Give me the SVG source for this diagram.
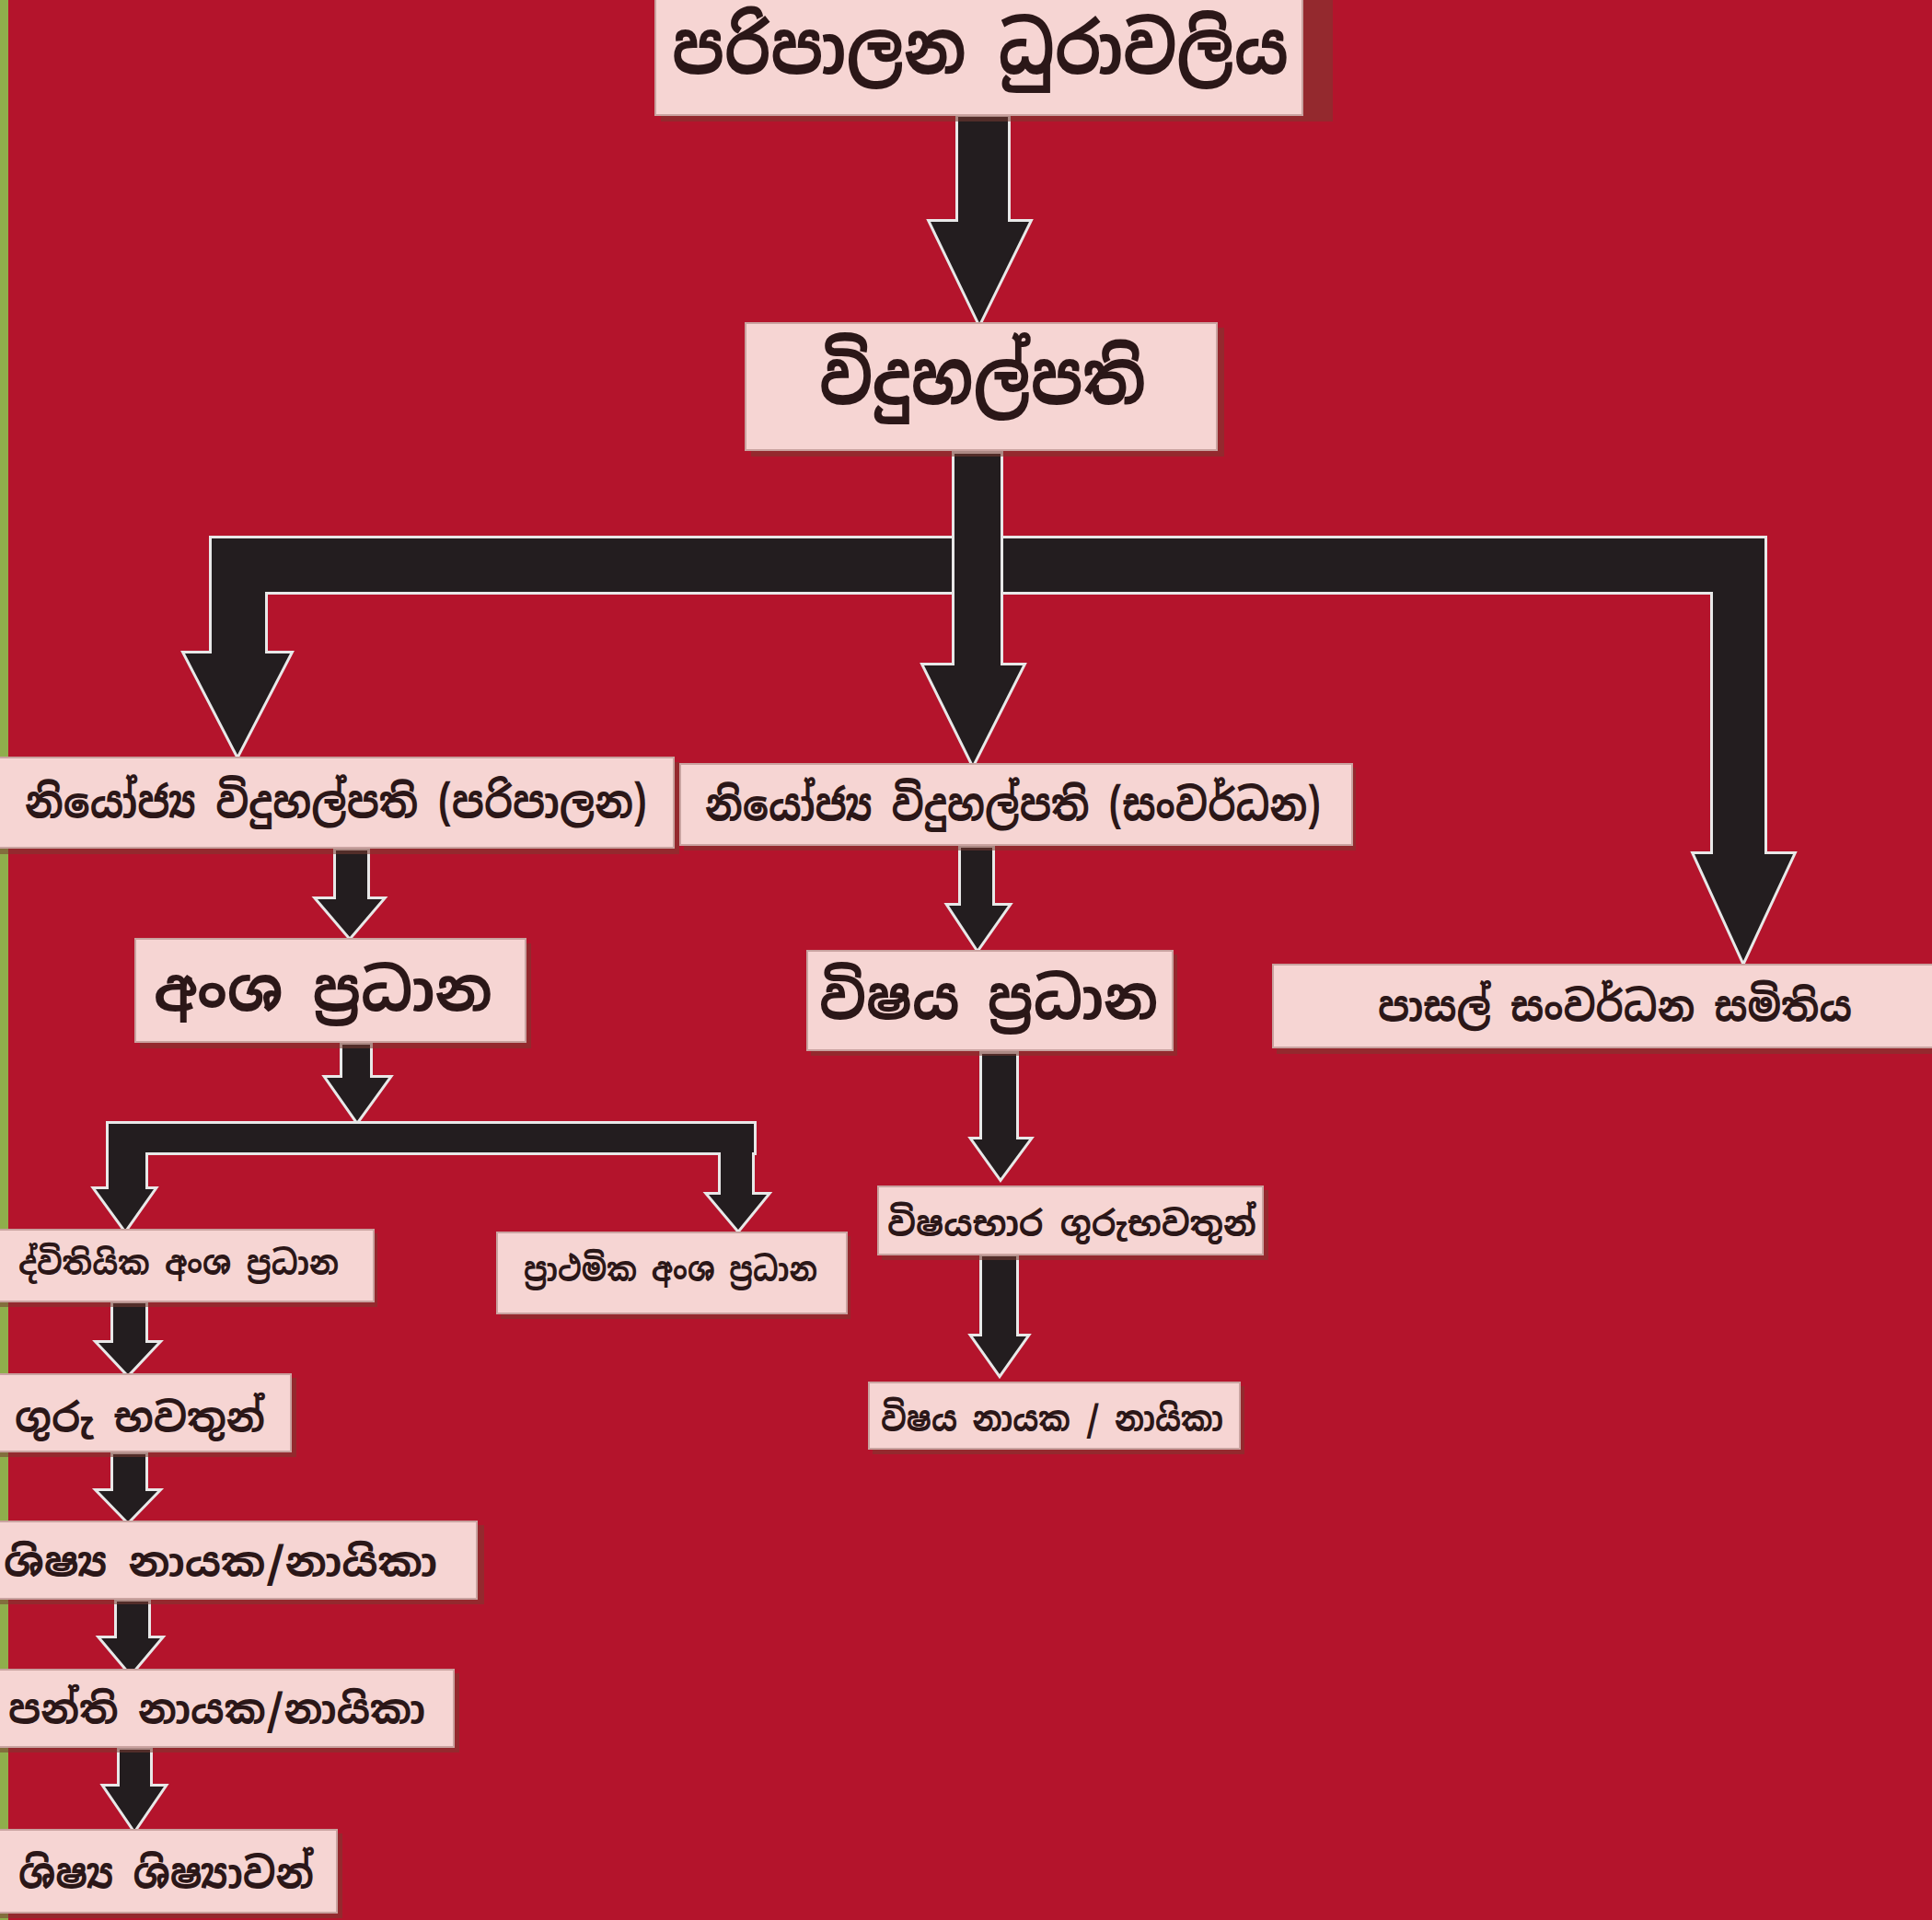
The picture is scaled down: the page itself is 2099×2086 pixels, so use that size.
<svg xmlns="http://www.w3.org/2000/svg" xmlns:xlink="http://www.w3.org/1999/xlink" width="2099" height="2086" viewBox="0 0 2099 2086">
<style>
.box{fill:#f6d5d3;stroke:#c9a3a0;stroke-width:2}
.shadow{fill:#7a3a32;opacity:0.55}
.t{font-family:"Noto Sans Sinhala","Iskoola Pota","Noto Sans","DejaVu Sans",sans-serif;fill:#2b1718;dominant-baseline:central;font-weight:bold}
.outline{stroke:#e8e8e8;stroke-width:6;stroke-linejoin:miter;fill:#e8e8e8}
.fill{fill:#231d1f}
</style>
<defs>
<g id="conn">
<polygon points="1041,127 1095,127 1095,241 1118,241 1064,351 1011,241 1041,241"/>
<rect x="230" y="585" width="1687" height="58"/>
<polygon points="230,585 288,585 288,710 315,710 258,820 201,710 230,710"/>
<polygon points="1861,585 1917,585 1917,928 1948,928 1894,1044 1841,928 1861,928"/>
<polygon points="365,924 399,924 399,977 415,977 380,1018 345,977 365,977"/>
<polygon points="1044,921 1078,921 1078,984 1095,984 1062,1031 1031,984 1044,984"/>
<polygon points="372,1135 402,1135 402,1171 422,1171 388,1218 355,1171 372,1171"/>
<rect x="118" y="1221" width="701" height="31"/>
<polygon points="118,1221 158,1221 158,1292 167,1292 136,1336 104,1292 118,1292"/>
<polygon points="783,1221 817,1221 817,1298 833,1298 802,1336 770,1298 783,1298"/>
<polygon points="123,1416 158,1416 158,1459 171,1459 139,1493 107,1459 123,1459"/>
<polygon points="123,1580 158,1580 158,1620 171,1620 139,1653 107,1620 123,1620"/>
<polygon points="127,1740 161,1740 161,1780 174,1780 142,1818 110,1780 127,1780"/>
<polygon points="130,1901 163,1901 163,1941 178,1941 146,1988 114,1941 130,1941"/>
<polygon points="1067,1145 1104,1145 1104,1238 1118,1238 1087,1280 1057,1238 1067,1238"/>
<polygon points="1067,1365 1104,1365 1104,1452 1115,1452 1086,1493 1057,1452 1067,1452"/>
</g>
<polygon id="mid" points="1037,493 1087,493 1087,723 1111,723 1057,830 1004,723 1037,723"/>
</defs>
<rect x="0" y="0" width="2099" height="2086" fill="#b4142c"/>
<rect x="0" y="0" width="9" height="2086" fill="#8fae4c"/>
<g id="connectors">
<use xlink:href="#conn" class="outline"/>
<use xlink:href="#conn" class="fill"/>
<use xlink:href="#mid" class="outline"/>
<use xlink:href="#mid" class="fill"/>
</g>
<g id="n1"><rect class="shadow" x="718" y="0" width="730" height="132"/><rect class="box" x="712" y="-5" width="703" height="130"/><text class="t" x="730" y="52" font-size="78" textLength="670" lengthAdjust="spacingAndGlyphs">පරිපාලන ධුරාවලිය</text></g>
<g id="n2"><rect class="shadow" x="816" y="356" width="514" height="140"/><rect class="box" x="810" y="351" width="512" height="138"/><text class="t" x="890" y="410" font-size="80" textLength="355" lengthAdjust="spacingAndGlyphs">විදුහල්පති</text></g>
<g id="n3"><rect class="shadow" x="0" y="828" width="738" height="100"/><rect class="box" x="-4" y="823" width="736" height="98"/><text class="t" x="27" y="870" font-size="48" textLength="676" lengthAdjust="spacingAndGlyphs">නියෝජ්‍ය විදුහල්පති (පරිපාලන)</text></g>
<g id="n4"><rect class="shadow" x="743" y="834" width="730" height="90"/><rect class="box" x="739" y="830" width="730" height="88"/><text class="t" x="766" y="873" font-size="48" textLength="669" lengthAdjust="spacingAndGlyphs">නියෝජ්‍ය විදුහල්පති (සංවර්ධන)</text></g>
<g id="n5"><rect class="shadow" x="152" y="1025" width="425" height="114"/><rect class="box" x="147" y="1020" width="424" height="112"/><text class="t" x="167" y="1075" font-size="64" textLength="368" lengthAdjust="spacingAndGlyphs">අංශ ප්‍රධාන</text></g>
<g id="n6"><rect class="shadow" x="881" y="1037" width="398" height="110"/><rect class="box" x="877" y="1033" width="397" height="108"/><text class="t" x="890" y="1084" font-size="64" textLength="368" lengthAdjust="spacingAndGlyphs">විෂය ප්‍රධාන</text></g>
<g id="n7"><rect class="shadow" x="1387" y="1053" width="712" height="92"/><rect class="box" x="1383" y="1048" width="720" height="90"/><text class="t" x="1497" y="1093" font-size="46" textLength="515" lengthAdjust="spacingAndGlyphs">පාසල් සංවර්ධන සමිතිය</text></g>
<g id="n8"><rect class="shadow" x="0" y="1340" width="410" height="80"/><rect class="box" x="-4" y="1336" width="410" height="78"/><text class="t" x="20" y="1372" font-size="36" textLength="348" lengthAdjust="spacingAndGlyphs">ද්විතියික අංශ ප්‍රධාන</text></g>
<g id="n9"><rect class="shadow" x="544" y="1343" width="380" height="90"/><rect class="box" x="540" y="1339" width="380" height="88"/><text class="t" x="569" y="1379" font-size="36" textLength="319" lengthAdjust="spacingAndGlyphs">ප්‍රාථමික අංශ ප්‍රධාන</text></g>
<g id="n10"><rect class="shadow" x="958" y="1293" width="420" height="76"/><rect class="box" x="954" y="1289" width="418" height="74"/><text class="t" x="964" y="1329" font-size="38" textLength="401" lengthAdjust="spacingAndGlyphs">විෂයභාර ගුරුභවතුන්</text></g>
<g id="n11"><rect class="shadow" x="0" y="1497" width="322" height="86"/><rect class="box" x="-4" y="1493" width="320" height="84"/><text class="t" x="16" y="1540" font-size="44" textLength="272" lengthAdjust="spacingAndGlyphs">ගුරු භවතුන්</text></g>
<g id="n12"><rect class="shadow" x="0" y="1657" width="526" height="86"/><rect class="box" x="-4" y="1653" width="522" height="84"/><text class="t" x="4" y="1697" font-size="44" textLength="471" lengthAdjust="spacingAndGlyphs">ශිෂ්‍ය නායක/නායිකා</text></g>
<g id="n13"><rect class="shadow" x="0" y="1818" width="499" height="86"/><rect class="box" x="-4" y="1814" width="497" height="84"/><text class="t" x="9" y="1857" font-size="44" textLength="453" lengthAdjust="spacingAndGlyphs">පන්ති නායක/නායිකා</text></g>
<g id="n14"><rect class="shadow" x="0" y="1992" width="372" height="92"/><rect class="box" x="-4" y="1988" width="370" height="90"/><text class="t" x="20" y="2035" font-size="46" textLength="321" lengthAdjust="spacingAndGlyphs">ශිෂ්‍ය ශිෂ්‍යාවන්</text></g>
<g id="n15"><rect class="shadow" x="948" y="1506" width="404" height="74"/><rect class="box" x="944" y="1502" width="403" height="72"/><text class="t" x="957" y="1541" font-size="38" textLength="372" lengthAdjust="spacingAndGlyphs">විෂය නායක / නායිකා</text></g>
</svg>
